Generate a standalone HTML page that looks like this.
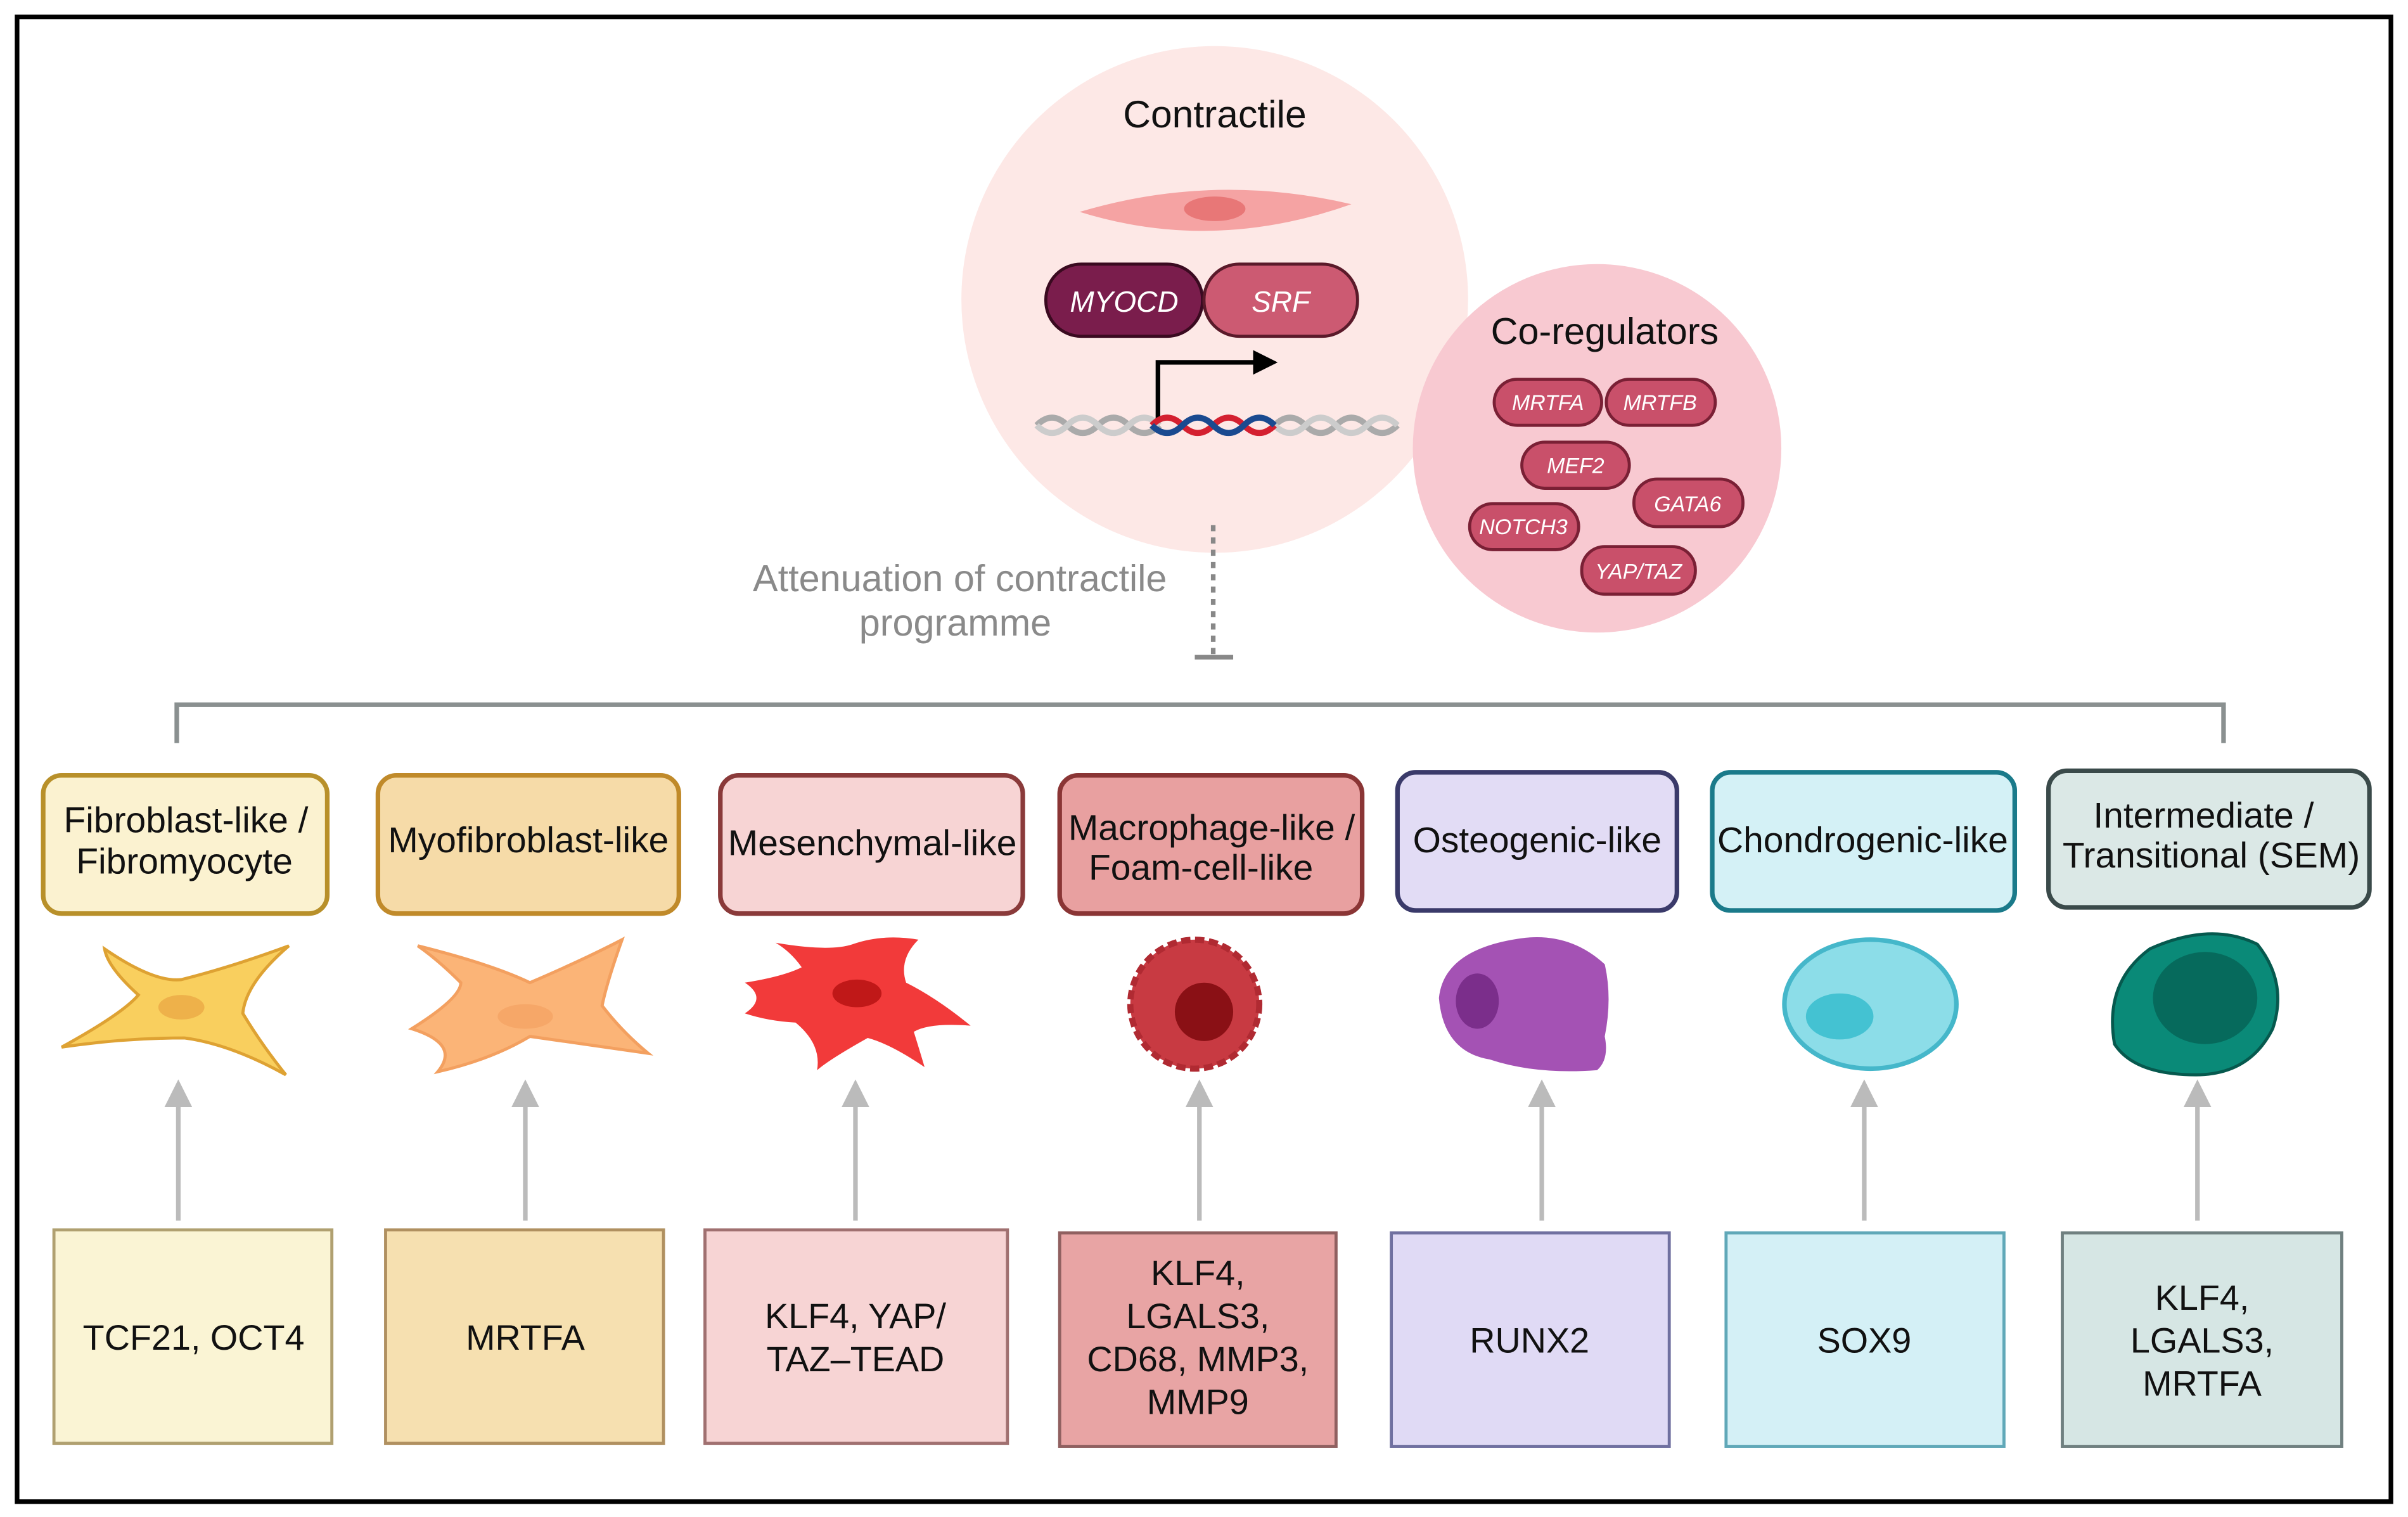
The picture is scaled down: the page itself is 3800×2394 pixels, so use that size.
<!DOCTYPE html>
<html><head><meta charset="utf-8"><style>
html,body{margin:0;padding:0;background:#fff}
svg{display:block}
text{font-family:"Liberation Sans",sans-serif}
</style></head><body>
<svg width="3800" height="2394" viewBox="0 0 1568 988" xmlns="http://www.w3.org/2000/svg">
<defs>
<marker id="ah" markerWidth="6" markerHeight="6" refX="3" refY="3" orient="auto"><path d="M0,0 L6,3 L0,6 z" fill="#bbb"/></marker>
</defs>
<rect x="0" y="0" width="1568" height="988" fill="#fff"/>
<rect x="11" y="11" width="1546" height="967" fill="none" stroke="#000" stroke-width="3"/>

<circle cx="791" cy="195" r="165" fill="#fde8e6"/>
<text x="791" y="83" font-size="25" text-anchor="middle" fill="#111">Contractile</text>
<path d="M703,138 Q790,112 880,133 Q790,165 703,138 z" fill="#f5a3a3"/>
<ellipse cx="791" cy="136" rx="20" ry="8" fill="#e87777"/>
<rect x="681" y="172" width="102" height="47" rx="23" fill="#7a1d4c" stroke="#3a0a20" stroke-width="2"/>
<text x="732" y="203" font-size="19" font-style="italic" text-anchor="middle" fill="#fff">MYOCD</text>
<rect x="784" y="172" width="100" height="47" rx="23" fill="#cc5a72" stroke="#5a1a2a" stroke-width="2"/>
<text x="834" y="203" font-size="19" font-style="italic" text-anchor="middle" fill="#fff">SRF</text>
<path d="M754,276 L754,236 L818,236" fill="none" stroke="#000" stroke-width="3"/>
<path d="M816,228 L832,236 L816,244 z" fill="#000"/>
<path d="M675,277 q10,-10 20,0 t20,0 t20,0 t20,0 M830,277 q10,-10 20,0 t20,0 t20,0 t20,0" fill="none" stroke="#aaa" stroke-width="4"/>
<path d="M675,277 q10,10 20,0 t20,0 t20,0 t20,0 M830,277 q10,10 20,0 t20,0 t20,0 t20,0" fill="none" stroke="#ccc" stroke-width="4"/>
<path d="M750,277 q10,-10 20,0 t20,0 t20,0 t20,0" fill="none" stroke="#d42030" stroke-width="4"/>
<path d="M750,277 q10,10 20,0 t20,0 t20,0 t20,0" fill="none" stroke="#1a4a90" stroke-width="4"/>

<circle cx="1040" cy="292" r="120" fill="#f8c9d1"/>
<text x="1045" y="224" font-size="24.5" text-anchor="middle" fill="#111">Co-regulators</text>
<g font-size="14" font-style="italic" text-anchor="middle" fill="#fff">
<rect x="973" y="247" width="70" height="30" rx="15" fill="#c9506a" stroke="#7a2035" stroke-width="2"/><text x="1008" y="267">MRTFA</text>
<rect x="1046" y="247" width="71" height="30" rx="15" fill="#c9506a" stroke="#7a2035" stroke-width="2"/><text x="1081" y="267">MRTFB</text>
<rect x="991" y="288" width="70" height="30" rx="15" fill="#c9506a" stroke="#7a2035" stroke-width="2"/><text x="1026" y="308">MEF2</text>
<rect x="1064" y="312" width="71" height="31" rx="15" fill="#c9506a" stroke="#7a2035" stroke-width="2"/><text x="1099" y="333">GATA6</text>
<rect x="957" y="328" width="71" height="30" rx="15" fill="#c9506a" stroke="#7a2035" stroke-width="2"/><text x="992" y="348">NOTCH3</text>
<rect x="1030" y="356" width="74" height="31" rx="15" fill="#c9506a" stroke="#7a2035" stroke-width="2"/><text x="1067" y="377">YAP/TAZ</text>
</g>

<line x1="790" y1="342" x2="790" y2="427" stroke="#888" stroke-width="3" stroke-dasharray="4,4"/>
<line x1="778" y1="428" x2="803" y2="428" stroke="#888" stroke-width="3"/>
<text x="625" y="385" font-size="24.5" text-anchor="middle" fill="#8a8a8a">Attenuation of contractile</text>
<text x="622" y="414" font-size="24.5" text-anchor="middle" fill="#8a8a8a">programme</text>

<path d="M115,484 L115,459 L1448,459 L1448,484" fill="none" stroke="#8a9090" stroke-width="3"/>

<g font-size="23.5" text-anchor="middle" fill="#111" stroke-width="3">
<rect x="28" y="505" width="185" height="90" rx="12" fill="#fbf2d0" stroke="#b8902a"/>
<text x="121" y="542">Fibroblast-like /</text><text x="120" y="569">Fibromyocyte</text>
<rect x="246" y="505" width="196" height="90" rx="12" fill="#f6dba8" stroke="#c08a2a"/>
<text x="344" y="555">Myofibroblast-like</text>
<rect x="469" y="505" width="197" height="90" rx="12" fill="#f7d4d4" stroke="#8a3a3a"/>
<text x="568" y="557">Mesenchymal-like</text>
<rect x="690" y="505" width="197" height="90" rx="12" fill="#e8a0a0" stroke="#8a3535"/>
<text x="789" y="547">Macrophage-like /</text><text x="782" y="573">Foam-cell-like</text>
<rect x="910" y="503" width="182" height="90" rx="12" fill="#e2dcf5" stroke="#3a3a6a"/>
<text x="1001" y="555">Osteogenic-like</text>
<rect x="1115" y="503" width="197" height="90" rx="12" fill="#d4f1f6" stroke="#1a7a8a"/>
<text x="1213" y="555">Chondrogenic-like</text>
<rect x="1334" y="502" width="209" height="89" rx="12" fill="#dbe8e6" stroke="#3a4a4a"/>
<text x="1435" y="539">Intermediate /</text><text x="1440" y="565">Transitional (SEM)</text>
</g>

<path d="M40,682 Q80,660 90,648 Q70,630 68,618 Q100,640 118,638 Q150,630 188,616 Q160,640 158,660 Q170,680 186,700 Q150,680 120,676 Q80,676 40,682 z" fill="#f9cf5e" stroke="#dea233" stroke-width="2"/>
<ellipse cx="118" cy="656" rx="15" ry="8" fill="#eeb14a"/>
<path d="M268,670 Q300,650 300,640 Q285,625 272,616 Q320,628 345,640 Q380,625 405,612 Q395,640 392,655 Q405,672 422,686 Q380,680 345,675 Q320,690 285,698 Q300,680 268,670 z" fill="#fbb477" stroke="#f3a060" stroke-width="2"/>
<ellipse cx="342" cy="662" rx="18" ry="8" fill="#f6a768"/>
<path d="M485,640 Q510,636 522,630 Q515,620 505,614 Q540,620 555,615 Q575,608 598,612 Q585,625 590,640 Q610,650 632,668 Q605,666 595,672 Q600,688 602,695 Q580,680 565,676 Q540,690 532,697 Q535,680 518,666 Q500,665 485,660 Q500,650 485,640 z" fill="#f23a3a"/>
<ellipse cx="558" cy="647" rx="16" ry="9" fill="#c01818"/>
<circle cx="778" cy="654" r="42" fill="#c83a42" stroke="#b02a32" stroke-width="4" stroke-dasharray="6,3"/>
<circle cx="784" cy="659" r="19" fill="#8a1015"/>
<path d="M937,650 Q940,620 985,612 Q1020,605 1045,628 Q1050,650 1045,675 Q1048,690 1040,697 Q1000,700 970,690 Q940,685 937,650 z" fill="#a452b4"/>
<ellipse cx="962" cy="652" rx="14" ry="18" fill="#7b2e8b"/>
<ellipse cx="1218" cy="654" rx="56" ry="42" fill="#8cdde8" stroke="#45b7ca" stroke-width="3"/>
<ellipse cx="1198" cy="662" rx="22" ry="15" fill="#44c2d2"/>
<path d="M1377,680 Q1370,640 1400,618 Q1440,600 1470,615 Q1490,640 1480,670 Q1465,700 1430,700 Q1390,700 1377,680 z" fill="#0a8a78" stroke="#06594e" stroke-width="2"/>
<ellipse cx="1436" cy="650" rx="34" ry="30" fill="#066a5c"/>

<g stroke="#bbb" stroke-width="3" marker-end="url(#ah)">
<line x1="116" y1="795" x2="116" y2="712"/>
<line x1="342" y1="795" x2="342" y2="712"/>
<line x1="557" y1="795" x2="557" y2="712"/>
<line x1="781" y1="795" x2="781" y2="712"/>
<line x1="1004" y1="795" x2="1004" y2="712"/>
<line x1="1214" y1="795" x2="1214" y2="712"/>
<line x1="1431" y1="795" x2="1431" y2="712"/>
</g>

<g font-size="23" text-anchor="middle" fill="#111" stroke-width="2">
<rect x="35" y="801" width="181" height="139" fill="#faf4d4" stroke="#b0a070"/>
<text x="126" y="879">TCF21, OCT4</text>
<rect x="251" y="801" width="181" height="139" fill="#f6e0b0" stroke="#b09060"/>
<text x="342" y="879">MRTFA</text>
<rect x="459" y="801" width="197" height="139" fill="#f7d4d4" stroke="#a07070"/>
<text x="557" y="865">KLF4, YAP/</text><text x="557" y="893">TAZ–TEAD</text>
<rect x="690" y="803" width="180" height="139" fill="#e8a4a4" stroke="#906060"/>
<text x="780" y="837">KLF4,</text><text x="780" y="865">LGALS3,</text><text x="780" y="893">CD68, MMP3,</text><text x="780" y="921">MMP9</text>
<rect x="906" y="803" width="181" height="139" fill="#e0daf5" stroke="#7070a0"/>
<text x="996" y="881">RUNX2</text>
<rect x="1124" y="803" width="181" height="139" fill="#d4f0f6" stroke="#60a8b8"/>
<text x="1214" y="881">SOX9</text>
<rect x="1343" y="803" width="182" height="139" fill="#d6e6e4" stroke="#708080"/>
<text x="1434" y="853">KLF4,</text><text x="1434" y="881">LGALS3,</text><text x="1434" y="909">MRTFA</text>
</g>
</svg>
</body></html>
